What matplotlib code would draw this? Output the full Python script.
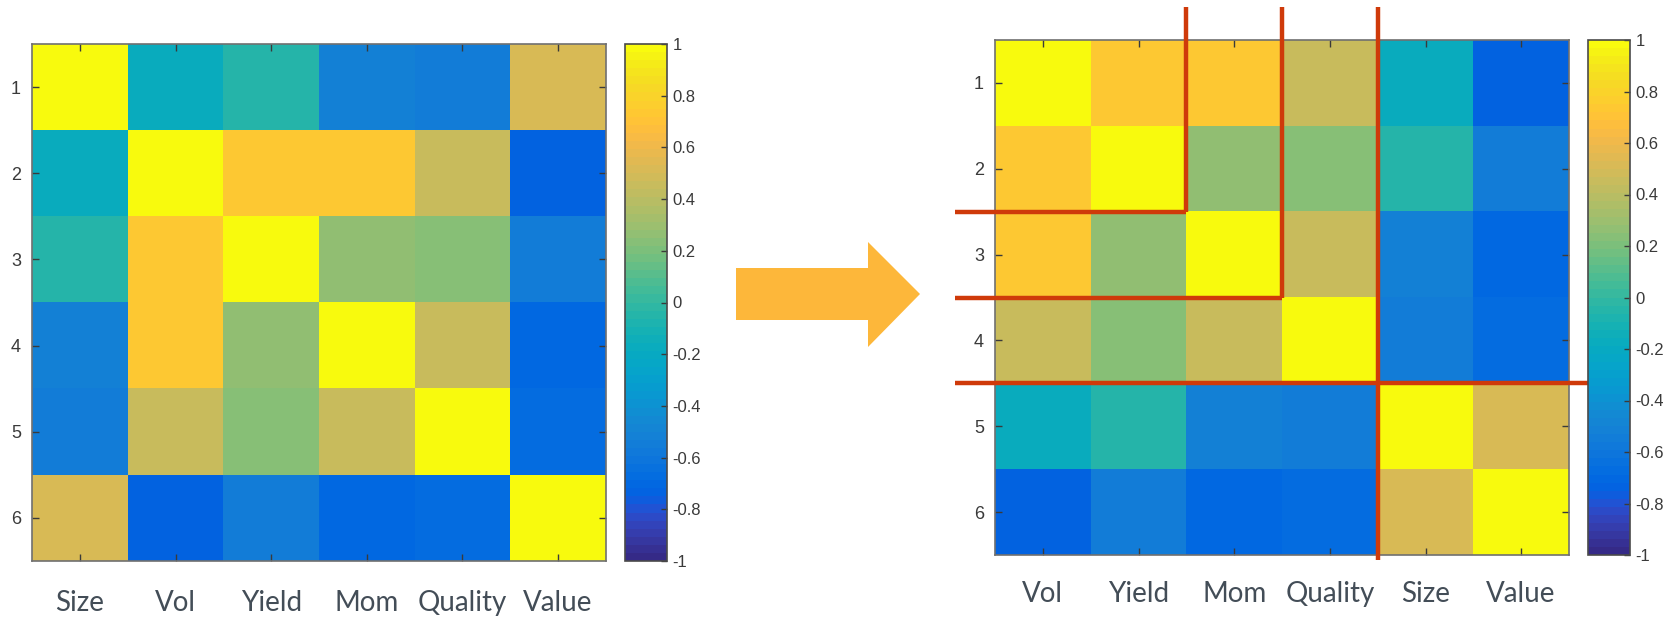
#!/usr/bin/env python3
"""
Factor correlation heatmaps: raw ordering vs. grouped ordering.
"""

import numpy as np
import matplotlib

matplotlib.use("Agg")
import matplotlib.pyplot as plt  # noqa: E402
from matplotlib.colors import ListedColormap  # noqa: E402
from matplotlib.patches import Polygon  # noqa: E402

# Factor names and their pairwise correlations (raw order)
factors = ["Size", "Vol", "Yield", "Mom", "Quality", "Value"]
corr = np.array([
    [1.00, -0.18, -0.05, -0.52, -0.55, 0.52],
    [-0.18, 1.00, 0.72, 0.72, 0.45, -0.73],
    [-0.05, 0.72, 1.00, 0.27, 0.23, -0.54],
    [-0.52, 0.72, 0.27, 1.00, 0.45, -0.70],
    [-0.55, 0.45, 0.23, 0.45, 1.00, -0.67],
    [0.52, -0.73, -0.54, -0.70, -0.67, 1.00],
])

# Grouped ordering and where the block separators go
grouped = ["Vol", "Yield", "Mom", "Quality", "Size", "Value"]
split_after = [2, 3, 4]

cbar_ticks = np.round(np.arange(-1.0, 1.01, 0.2), 1) + 0.0

# MATLAB parula, 64 levels
PARULA = [
    (0.2081, 0.1663, 0.5292), (0.2116, 0.1898, 0.5777), (0.2123, 0.2138, 0.6270),
    (0.2081, 0.2386, 0.6771), (0.1959, 0.2645, 0.7279), (0.1707, 0.2919, 0.7792),
    (0.1253, 0.3242, 0.8303), (0.0591, 0.3598, 0.8683), (0.0117, 0.3875, 0.8820),
    (0.0060, 0.4086, 0.8828), (0.0165, 0.4266, 0.8786), (0.0329, 0.4430, 0.8720),
    (0.0498, 0.4586, 0.8641), (0.0629, 0.4737, 0.8554), (0.0723, 0.4887, 0.8467),
    (0.0779, 0.5040, 0.8384), (0.0793, 0.5200, 0.8312), (0.0749, 0.5375, 0.8263),
    (0.0641, 0.5570, 0.8240), (0.0488, 0.5772, 0.8228), (0.0343, 0.5966, 0.8199),
    (0.0265, 0.6137, 0.8135), (0.0239, 0.6287, 0.8038), (0.0231, 0.6418, 0.7913),
    (0.0228, 0.6535, 0.7768), (0.0267, 0.6642, 0.7607), (0.0384, 0.6743, 0.7436),
    (0.0590, 0.6838, 0.7254), (0.0843, 0.6928, 0.7062), (0.1133, 0.7015, 0.6859),
    (0.1453, 0.7098, 0.6646), (0.1801, 0.7177, 0.6424), (0.2178, 0.7250, 0.6193),
    (0.2586, 0.7317, 0.5954), (0.3022, 0.7376, 0.5712), (0.3482, 0.7424, 0.5473),
    (0.3953, 0.7459, 0.5244), (0.4420, 0.7481, 0.5033), (0.4871, 0.7491, 0.4840),
    (0.5300, 0.7491, 0.4661), (0.5709, 0.7485, 0.4494), (0.6099, 0.7473, 0.4337),
    (0.6473, 0.7456, 0.4188), (0.6834, 0.7435, 0.4044), (0.7184, 0.7411, 0.3905),
    (0.7525, 0.7384, 0.3768), (0.7858, 0.7356, 0.3633), (0.8185, 0.7327, 0.3498),
    (0.8507, 0.7299, 0.3360), (0.8824, 0.7274, 0.3217), (0.9139, 0.7258, 0.3063),
    (0.9450, 0.7261, 0.2886), (0.9739, 0.7314, 0.2666), (0.9938, 0.7455, 0.2403),
    (0.9990, 0.7653, 0.2164), (0.9955, 0.7861, 0.1967), (0.9880, 0.8066, 0.1794),
    (0.9789, 0.8271, 0.1633), (0.9697, 0.8481, 0.1475), (0.9626, 0.8705, 0.1309),
    (0.9589, 0.8949, 0.1132), (0.9598, 0.9218, 0.0948), (0.9661, 0.9514, 0.0755),
    (0.9763, 0.9831, 0.0538),
]
parula = ListedColormap(PARULA, name="parula")

LABEL_COLOR = "#434d57"
TICK_COLOR = "#3a3a3a"
SPINE_COLOR = "#707070"
RED = "#cf3a0a"
ARROW = "#fdb73a"

W, H = 1678, 617
fig = plt.figure(figsize=(W / 100, H / 100), dpi=100)


def px_rect(x0, y0, x1, y1):
    """Figure-fraction rect from pixel box (top-left origin)."""
    return [x0 / W, 1 - y1 / H, (x1 - x0) / W, (y1 - y0) / H]


def draw_matrix(ax_rect, cb_rect, mat, names, label_pad):
    ax = fig.add_axes(ax_rect)
    n = len(names)
    im = ax.imshow(mat, cmap=parula, vmin=-1, vmax=1, aspect="auto",
                   interpolation="nearest",
                   extent=(0.5, n + 0.5, n + 0.5, 0.5))
    ticks = np.arange(1, n + 1)
    ax.set_xticks(ticks)
    ax.set_yticks(ticks)
    ax.set_yticklabels([str(t) for t in ticks], fontsize=13,
                       family="Liberation Sans", color=TICK_COLOR)
    ax.set_xticklabels(names, fontsize=20, family="Lato", color=LABEL_COLOR)
    ax.tick_params(axis="both", direction="in", length=5, width=1,
                   colors=TICK_COLOR, top=True, right=True)
    ax.tick_params(axis="x", pad=label_pad, labelcolor=LABEL_COLOR)
    ax.tick_params(axis="y", pad=8, labelcolor=TICK_COLOR)
    for s in ax.spines.values():
        s.set_color(SPINE_COLOR)
        s.set_linewidth(1.2)

    cax = fig.add_axes(cb_rect)
    cb = fig.colorbar(im, cax=cax, ticks=cbar_ticks)
    cb.ax.set_yticklabels([f"{t:g}" for t in cbar_ticks], fontsize=12,
                          family="Liberation Sans", color=TICK_COLOR)
    cb.ax.tick_params(direction="in", length=4, width=1, colors=TICK_COLOR,
                      pad=4, labelcolor=TICK_COLOR)
    cb.outline.set_edgecolor("#4a4a4a")
    cb.outline.set_linewidth(1.2)
    return ax


# Left: raw order
draw_matrix(px_rect(32, 44, 606, 561), px_rect(625, 44, 667, 561),
            corr, factors, label_pad=21)

# Right: grouped order
order = [factors.index(name) for name in grouped]
corr_grouped = corr[np.ix_(order, order)]
ax_r = draw_matrix(px_rect(995, 40, 1569, 555), px_rect(1588, 40, 1630, 555),
                   corr_grouped, grouped, label_pad=19)

# Block separators on the grouped matrix
n = len(grouped)
top_ext, left_ext = 0.12, 0.08
bottom_ext, right_ext = n + 0.56, n + 0.71
for i, k in enumerate(split_after):
    b = k + 0.5
    last = i == len(split_after) - 1
    v_end = bottom_ext if last else b
    h_end = right_ext if last else b
    ax_r.plot([b, b], [top_ext, v_end], color=RED, lw=3.2,
              solid_capstyle="butt", clip_on=False, zorder=5)
    ax_r.plot([left_ext, h_end], [b, b], color=RED, lw=3.2,
              solid_capstyle="butt", clip_on=False, zorder=5)
ax_r.set_xlim(0.5, n + 0.5)
ax_r.set_ylim(n + 0.5, 0.5)

# Block arrow between the two panels
arrow_px = [(736, 268), (868, 268), (868, 242), (920, 294),
            (868, 347), (868, 320), (736, 320)]
arrow = Polygon([(x / W, 1 - y / H) for x, y in arrow_px], closed=True,
                transform=fig.transFigure, facecolor=ARROW, edgecolor="none")
fig.patches.append(arrow)

fig.savefig("out.png", dpi=100)
